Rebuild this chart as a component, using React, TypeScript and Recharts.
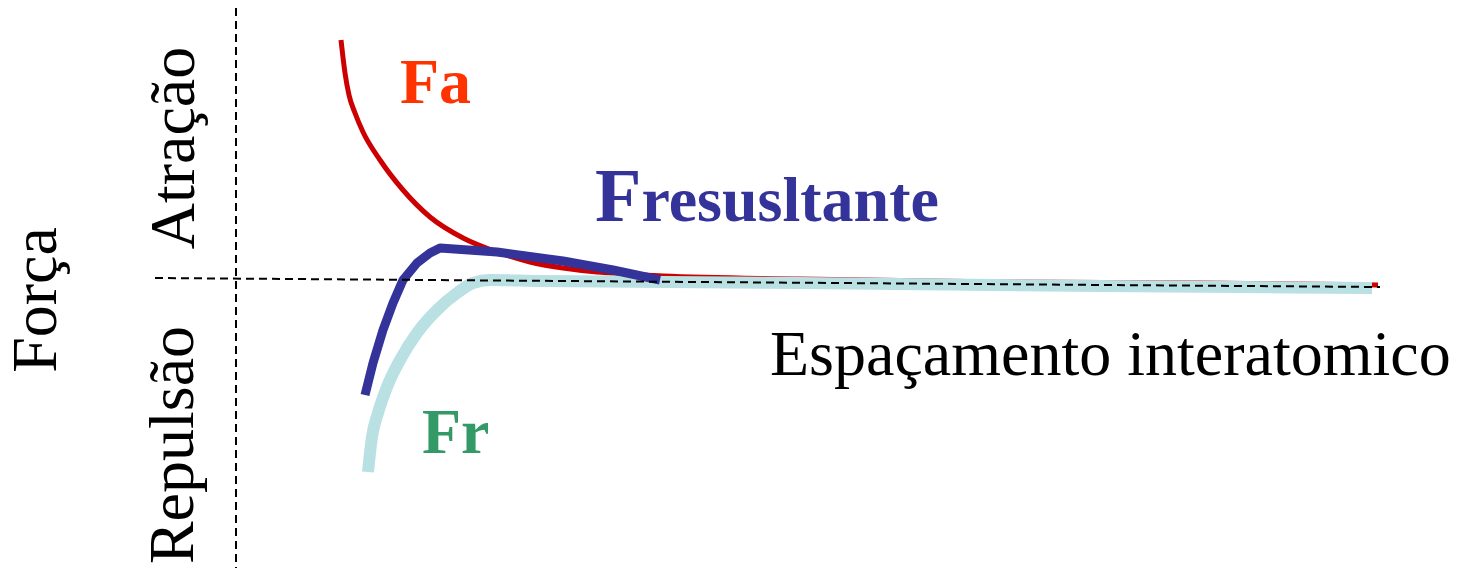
import { LineChart, Line, XAxis, YAxis, ReferenceLine, Customized } from 'recharts';

// interatomic spacing (x) vs force (y), arbitrary units
const faX = [1.05, 1.09, 1.13, 1.19, 1.27, 1.44, 1.67, 1.94, 2.27, 2.61, 2.94, 3.27, 3.61, 3.94, 4.27, 5.64, 7.64, 9.64, 11.42];
const faY = [4.76, 4.1, 3.66, 3.3, 2.92, 2.36, 1.76, 1.22, 0.8, 0.52, 0.32, 0.2, 0.12, 0.08, 0.04, -0.02, -0.08, -0.1, -0.14];

const frX = [1.32, 1.36, 1.42, 1.51, 1.64, 1.81, 2.01, 2.21, 2.37, 2.54, 3.04, 5.64, 8.64, 11.36];
const frY = [-3.88, -3.18, -2.7, -2.18, -1.64, -1.1, -0.64, -0.3, -0.1, -0.04, -0.06, -0.1, -0.16, -0.2];

const resX = [1.29, 1.37, 1.47, 1.57, 1.67, 1.81, 1.94, 2.04, 2.61, 3.27, 3.77, 4.24];
const resY = [-2.34, -1.7, -1.04, -0.5, -0.04, 0.3, 0.5, 0.6, 0.52, 0.34, 0.16, -0.04];

const toPoints = (xs: number[], ys: number[]) => xs.map((x, i) => ({ x, y: ys[i] }));

const SERIF = '"Liberation Serif", "Times New Roman", serif';

function Annotations() {
  return (
    <g style={{ fontFamily: SERIF }}>
      <text x={400} y={103} fontSize={64} fontWeight="bold" fill="#FF3300">Fa</text>
      <text x={595} y={221} fontWeight="bold" fill="#333399">
        <tspan fontSize={76}>F</tspan>
        <tspan fontSize={64}>resusltante</tspan>
      </text>
      <text x={422} y={453} fontSize={64} fontWeight="bold" fill="#339966">Fr</text>
      <text x={770} y={375} fontSize={64} fill="#000">Espaçamento interatomico</text>
      <text transform="translate(56,300) rotate(-90)" textAnchor="middle" fontSize={64} fill="#000">Força</text>
      <text transform="translate(194,148) rotate(-90)" textAnchor="middle" fontSize={64} fill="#000">Atração</text>
      <text transform="translate(193,445) rotate(-90)" textAnchor="middle" fontSize={64} fill="#000">Repulsão</text>
    </g>
  );
}

export default function App() {
  return (
    <div style={{ position: 'absolute', left: 0, top: 0, width: 1458, height: 568, background: '#fff' }}>
      <LineChart width={1458} height={568} margin={{ top: 0, right: 0, bottom: 0, left: 0 }}>
        <XAxis dataKey="x" type="number" domain={[-2.36, 12.22]} hide allowDataOverflow />
        <YAxis type="number" domain={[-5.8, 5.56]} hide allowDataOverflow />
        <Line data={toPoints(faX, faY)} dataKey="y" type="monotone" stroke="#CC0000" strokeWidth={5}
          dot={false} activeDot={false} isAnimationActive={false} />
        <Line data={toPoints(frX, frY)} dataKey="y" type="monotone" stroke="#B9E0E3" strokeWidth={12}
          dot={false} activeDot={false} isAnimationActive={false} />
        <Line data={toPoints(resX, resY)} dataKey="y" type="linear" stroke="#333399" strokeWidth={9}
          strokeLinejoin="round" dot={false} activeDot={false} isAnimationActive={false} />
        <ReferenceLine segment={[{ x: 0, y: 5.4 }, { x: 0, y: -5.8 }]} stroke="#000" strokeWidth={2} strokeDasharray="8 5" />
        <ReferenceLine segment={[{ x: -0.81, y: 0 }, { x: 11.44, y: -0.18 }]} stroke="#000" strokeWidth={2} strokeDasharray="8 5" />
        <Customized component={Annotations} />
      </LineChart>
    </div>
  );
}
